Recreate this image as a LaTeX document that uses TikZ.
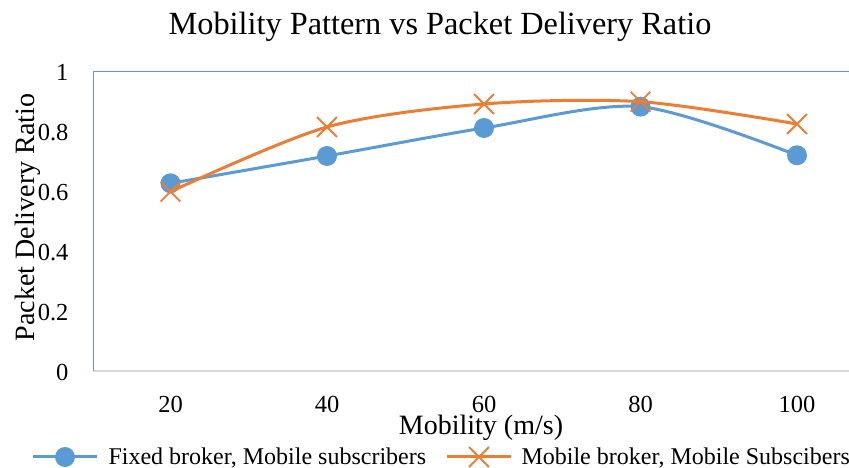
\documentclass[tikz,border=0pt]{standalone}
\usepackage{fontspec}
\setmainfont{Liberation Serif}
\usetikzlibrary{shapes.misc}
\definecolor{cblue}{HTML}{5B9BD5}
\definecolor{corange}{HTML}{ED7D31}
\definecolor{cgrid}{HTML}{D9D9D9}
\begin{document}
\begin{tikzpicture}[x=1pt,y=1pt,
  bline/.style={draw=cblue, line width=3pt, line cap=round, line join=round},
  oline/.style={draw=corange, line width=3pt, line cap=round, line join=round},
  bdot/.style={circle, fill=cblue, minimum size=20pt, inner sep=0pt},
  ocross/.style={cross out, draw=corange, line width=1.8pt, minimum size=18pt, inner sep=0pt},
  ticklab/.style={font=\fontsize{24.5}{26}\selectfont},
  axtitle/.style={font=\fontsize{28}{30}\selectfont},
  legtext/.style={font=\fontsize{24}{26}\selectfont, anchor=base west}]
\useasboundingbox (0,0) rectangle (849,468);
% frame
\draw[cgrid, line width=1.5pt] (93,97) -- (849,97);
\draw[cblue, line width=0.9pt] (93,97) -- (93,397) -- (849,397);
% title
\node[font=\fontsize{32.3}{34}\selectfont, anchor=base] (title) at (440,433) {Mobility Pattern vs Packet Delivery Ratio};
% y tick labels
\foreach \v/\t in {0/0,1/0.2,2/0.4,3/0.6,4/0.8,5/1}
  \node[ticklab, anchor=base east] (y\v) at (72,{97+60*\v-10}) {\t};
% x tick labels
\foreach \i/\xx/\t in {1/170.5/20,2/327/40,3/484/60,4/640.5/80,5/797/100}
  \node[ticklab, anchor=base] (x\i) at (\xx,55) {\t};
% axis titles
\node[axtitle, anchor=base] (xt) at (481,33.5) {Mobility (m/s)};
\node[axtitle, anchor=base, rotate=90] (yt) at (34,250.5) {Packet Delivery Ratio};
% data coordinates
\coordinate (b1) at (170.5,284.7);
\coordinate (b2) at (327,312);
\coordinate (b3) at (484,340);
\coordinate (b4) at (640.5,361.3);
\coordinate (b5) at (797,312.7);
\coordinate (o1) at (170.5,276.3);
\coordinate (o2) at (327,341);
\coordinate (o3) at (484,364);
\coordinate (o4) at (640.5,366.3);
\coordinate (o5) at (797,344);
% blue series
\draw[bline] plot[smooth, tension=0.5] coordinates {(b1) (b2) (b3) (b4) (b5)};
\foreach \i in {1,...,5} \node[bdot] (bm\i) at (b\i) {};
% orange series
\draw[oline] plot[smooth, tension=0.5] coordinates {(o1) (o2) (o3) (o4) (o5)};
\foreach \i in {1,...,5} \node[ocross] (om\i) at (o\i) {};
% legend
\coordinate (lb1) at (33,11); \coordinate (lb2) at (97,11);
\draw[bline, line cap=butt] (lb1) -- (lb2);
\node[bdot] (lbm) at (65,11) {};
\node[legtext] (lbt) at (105,3.5) {Fixed broker, Mobile subscribers};
\coordinate (lo1) at (447,11); \coordinate (lo2) at (511,11);
\draw[oline, line cap=butt] (lo1) -- (lo2);
\node[ocross] (lom) at (479,11) {};
\node[legtext] (lot) at (518,3.5) {Mobile broker, Mobile Subscibers};
\end{tikzpicture}
\end{document}
